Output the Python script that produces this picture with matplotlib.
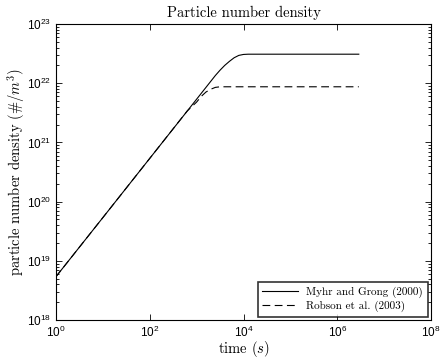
import matplotlib
matplotlib.use("Agg")
import matplotlib.pyplot as plt
import numpy as np
from matplotlib.ticker import LogLocator, NullFormatter

plt.rcParams['font.family'] = 'Liberation Sans'
plt.rcParams['mathtext.fontset'] = 'custom'
plt.rcParams['mathtext.rm'] = 'Liberation Sans'

# values
time_myhr = [1, 10, 100, 1000, 2512, 3162, 3981, 5012, 6310, 7943, 1.0e4, 1.259e4, 2.88e6]
dens_myhr = [5.4e18, 5.37e19, 5.37e20, 5.37e21, 1.35e22, 1.66e22, 2.0e22, 2.34e22,
             2.69e22, 2.95e22, 3.06e22, 3.09e22, 3.09e22]

time_robson = [1, 10, 100, 631, 1000, 1259, 1585, 1995, 2512, 3162, 2.88e6]
dens_robson = [5.4e18, 5.37e19, 5.37e20, 3.4e21, 4.8e21, 6.0e21, 7.1e21, 7.9e21,
               8.5e21, 8.7e21, 8.7e21]

labels = ['Myhr and Grong (2000)', 'Robson et al. (2003)']

fig = plt.figure(figsize=(4.41, 3.6), dpi=100)
ax = fig.add_axes([56/441, 40/360, 375/441, 296/360])

ax.loglog(time_myhr, dens_myhr, 'k-', lw=0.8, label=labels[0])
ax.loglog(time_robson, dens_robson, 'k--', lw=0.8, dashes=(7, 4), label=labels[1])

ax.set_xlim(1, 1e8)
ax.set_ylim(1e18, 1e23)
ax.xaxis.set_major_locator(LogLocator(base=100))
ax.xaxis.set_minor_locator(LogLocator(base=10, numticks=20))
ax.xaxis.set_minor_formatter(NullFormatter())
ax.yaxis.set_major_locator(LogLocator(base=10))
ax.yaxis.set_minor_locator(LogLocator(base=10, subs=np.arange(2, 10), numticks=20))
ax.yaxis.set_minor_formatter(NullFormatter())

ax.tick_params(which='both', direction='in', top=True, right=True, labelsize=8.5, width=0.6)
ax.tick_params(which='major', length=4)
ax.tick_params(which='minor', length=2, labelleft=False, labelbottom=False)
ax.tick_params(axis='x', which='minor', length=0)
for s in ax.spines.values():
    s.set_linewidth(0.8)

cm = dict(family='cmr10', math_fontfamily='cm')
ax.set_title('Particle number density', fontsize=10.5, pad=5, **cm)
ax.set_xlabel(r'time $(s)$', fontsize=10.5, labelpad=-1, **cm)
ax.set_ylabel(r'particle number density $(\#/m^3)$', fontsize=10.5, labelpad=0, **cm)

leg = ax.legend(loc='lower right', prop={'family': 'cmr10', 'size': 8},
                frameon=True, fancybox=False, edgecolor='k', borderaxespad=0.3,
                handlelength=3.2, borderpad=0.4, labelspacing=0.3)
leg.get_frame().set_linewidth(1.2)

fig.savefig('out.png', dpi=100)
